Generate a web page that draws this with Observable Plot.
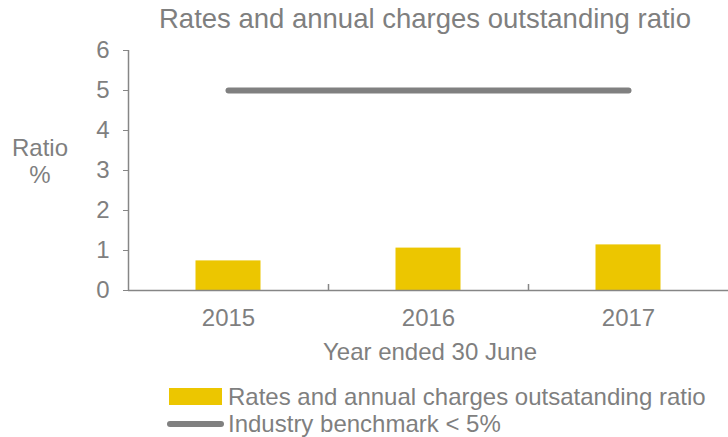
<!DOCTYPE html>
<html>
<head>
<meta charset="utf-8">
<script src="https://cdn.jsdelivr.net/npm/d3@7"></script>
<script src="https://cdn.jsdelivr.net/npm/@observablehq/plot@0.6"></script>
<style>
  html, body { margin: 0; padding: 0; background: #fff; }
  #wrap { position: relative; width: 728px; height: 437px; font-family: "Liberation Sans", Arial, sans-serif; color: #7f7f7f; }
  #wrap svg { position: absolute; left: 0; top: 0; }
  .t { position: absolute; white-space: nowrap; }
  #title { font-size: 27.5px; line-height: 30px; top: 4px; left: 425px; transform: translateX(-50%); }
  #ylab { font-size: 24px; line-height: 27px; top: 134px; left: 40px; transform: translateX(-50%); text-align: center; }
  #xlab { font-size: 24px; line-height: 28px; top: 338px; left: 430px; transform: translateX(-50%); }
  .leg { font-size: 24px; line-height: 27px; left: 228px; }
  .sw { position: absolute; }
</style>
</head>
<body>
<div id="wrap">
  <div id="title" class="t">Rates and annual charges outstanding ratio</div>
  <div id="ylab" class="t">Ratio<br>%</div>
  <div id="xlab" class="t">Year ended 30 June</div>
  <div class="sw" style="left:169px;top:388px;width:53px;height:17px;background:#ECC600"></div>
  <div class="t leg" style="top:383px">Rates and annual charges outsatanding ratio</div>
  <div class="sw" style="left:167px;top:421px;width:57px;height:6px;border-radius:3px;background:#808080"></div>
  <div class="t leg" style="top:410px">Industry benchmark &lt; 5%</div>
</div>
<script>
const years = [2015, 2016, 2017];
const ratioValues = [0.74, 1.06, 1.14];
const benchmarkValues = [5, 5, 5];
const yTicks = [0, 1, 2, 3, 4, 5, 6];

const barData = years.map((year, i) => ({year, value: ratioValues[i]}));
const benchData = years.map((year, i) => ({year, value: benchmarkValues[i]}));
const halfBar = 0.1625;
const boundaries = years.slice(1).map(y => y - 0.5);

const chart = Plot.plot({
  width: 728,
  height: 437,
  marginLeft: 128,
  marginRight: 0,
  marginTop: 50,
  marginBottom: 147,
  style: {fontFamily: "'Liberation Sans', Arial, sans-serif", fontSize: "24px", color: "#7f7f7f", background: "transparent", overflow: "visible"},
  x: {domain: [years[0] - 0.5, years[years.length - 1] + 0.5], label: null},
  y: {domain: [yTicks[0], yTicks[yTicks.length - 1]], label: null},
  marks: [
    Plot.rectY(barData, {x1: d => d.year - halfBar, x2: d => d.year + halfBar, y: "value", fill: "#ECC600"}),
    Plot.lineY(benchData, {x: "year", y: "value", stroke: "#808080", strokeWidth: 6, strokeLinecap: "round"}),
    Plot.ruleX([years[0] - 0.5], {y1: yTicks[0], y2: yTicks[yTicks.length - 1], stroke: "#868686", strokeWidth: 1.5}),
    Plot.ruleY([0], {stroke: "#868686", strokeWidth: 1.5}),
    Plot.ruleX(boundaries, {y1: 0, y2: 0.15, stroke: "#868686", strokeWidth: 1.5}),
    Plot.axisY({ticks: yTicks, tickFormat: d => String(d), tickSize: 5, tickPadding: 14, stroke: "#868686", fill: "#7f7f7f", label: null}),
    Plot.axisX({ticks: years, tickFormat: d => String(d), tickSize: 0, tickPadding: 18, fill: "#7f7f7f", label: null})
  ]
});
document.getElementById("wrap").prepend(chart);
</script>
</body>
</html>
